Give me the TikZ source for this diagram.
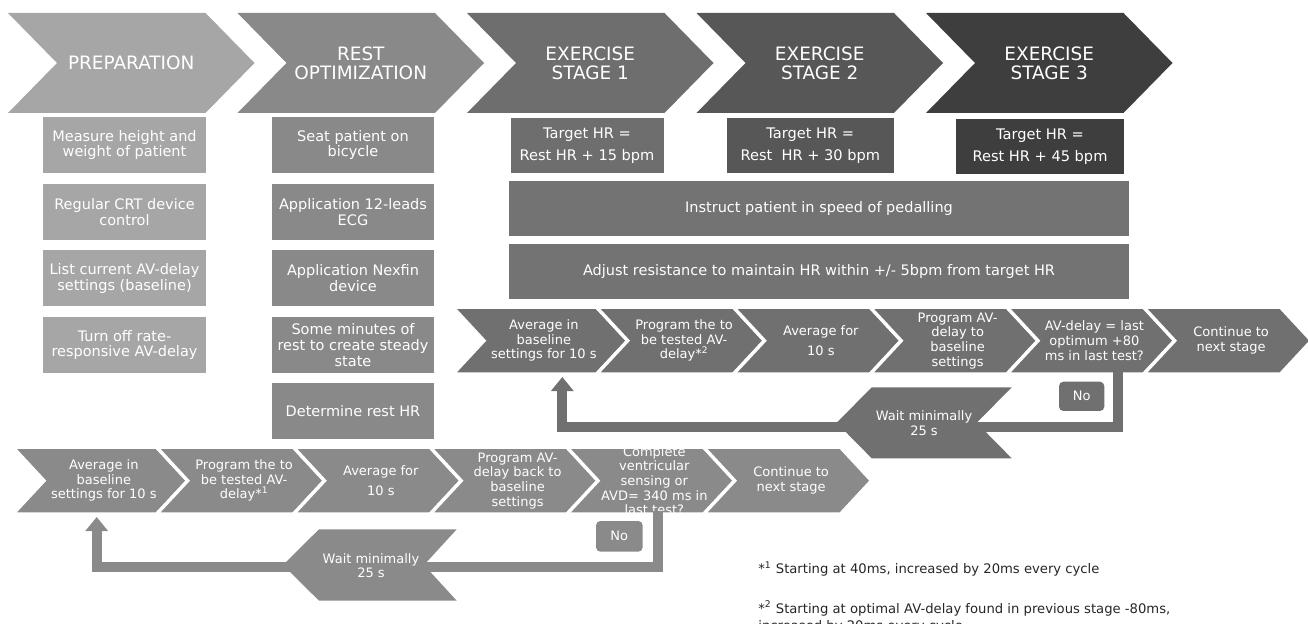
\documentclass[tikz,border=0pt]{standalone}
\usepackage{fontspec}
\setmainfont{DejaVu Sans}
\usepackage{tikz}
\usetikzlibrary{arrows.meta, positioning, calc}
\definecolor{prepgray}{HTML}{A6A6A6}
\definecolor{restgray}{HTML}{898989}
\definecolor{exagray}{HTML}{6E6E6E}
\definecolor{exbgray}{HTML}{575757}
\definecolor{excgray}{HTML}{3E3E3E}
\definecolor{widegray}{HTML}{737373}
\definecolor{upgray}{HTML}{707070}
\definecolor{logray}{HTML}{8A8A8A}
\definecolor{notegray}{HTML}{262626}
\tikzset{
  hdr/.style={text=white, font=\fontsize{10.5}{11}\selectfont, align=center, inner sep=0pt},
  boxtxt/.style={text=white, font=\fontsize{8.25}{9.1}\selectfont, align=center, inner sep=0pt},
  tgttxt/.style={text=white, font=\fontsize{8.3}{12.5}\selectfont, align=center, inner sep=0pt},
  rowtxt/.style={text=white, font=\fontsize{7.4}{8.35}\selectfont, align=center, inner sep=0pt},
  notetxt/.style={text=notegray, font=\fontsize{7.5}{9.8}\selectfont, align=left, inner sep=0pt, anchor=north west},
  chevline/.style={draw=white, line width=1.9pt},
  loopline/.style={line width=5.7pt, -{Triangle[length=8pt, width=12.5pt]}},
}

\begin{document}
\begin{tikzpicture}[x=0.02cm, y=-0.02cm]
  \useasboundingbox (0,0) rectangle (1308,624);
  \clip (0,0) rectangle (1308,624);
  \foreach \l/\col/\nm/\txt in {8/prepgray/prep/PREPARATION, 237.5/restgray/rest/{REST\\OPTIMIZATION}, 467/exagray/exa/{EXERCISE\\STAGE 1}, 696.5/exbgray/exb/{EXERCISE\\STAGE 2}, 926/excgray/exc/{EXERCISE\\STAGE 3}} {
    \fill[\col] (\l,13) -- ++(197.5,0) -- ++(49,50) -- ++(-49,50) -- ++(-197.5,0) -- ++(49,-50) -- cycle;
    \node[hdr] (\nm) at (\l+123.25,63) {\txt};
  }
  \foreach \y/\nm/\txt in {117/meas/{Measure height and\\weight of patient}, 184/crt/{Regular CRT device\\control}, 250.5/list/{List current AV-delay\\settings (baseline)}, 317/rate/{Turn off rate-\\responsive AV-delay}} {
    \fill[prepgray] (43,\y) rectangle ++(163,56);
    \node[boxtxt] (\nm) at (124.5,\y+28) {\txt};
  }
  \foreach \y/\nm/\txt in {117/seat/{Seat patient on\\bicycle}, 184/ecg/{Application 12-leads\\ECG}, 250.5/nexfin/{Application Nexfin\\device}, 317/steady/{Some minutes of\\rest to create steady\\state}, 383.5/resthr/{Determine rest HR}} {
    \fill[restgray] (272,\y) rectangle ++(162,56);
    \node[boxtxt] (\nm) at (353,\y+28) {\txt};
  }
  \fill[exagray] (510.5,118) rectangle (663.5,173);
  \node[tgttxt] (tga) at (587,146) {Target HR =\\Rest HR + 15 bpm};
  \fill[exbgray] (726.5,118) rectangle (894,173);
  \node[tgttxt] (tgb) at (810.3,146) {Target HR =\\Rest\ \ HR + 30 bpm};
  \fill[excgray] (956,119) rectangle (1124,174);
  \node[tgttxt] (tgc) at (1040,147) {Target HR =\\Rest HR + 45 bpm};
  \fill[widegray] (509,181) rectangle (1129,236);
  \node[boxtxt] (pedal) at (819,208.5) {Instruct patient in speed of pedalling};
  \fill[widegray] (509,244) rectangle (1129,299);
  \node[boxtxt] (resist) at (819,271.5) {Adjust resistance to maintain HR within +/- 5bpm from target HR};
  \foreach \l/\r/\nm/\txt in {453/596.7/ua/{Average in\\baseline\\settings for 10 s}, 596.7/733.5/ub/{Program the to\\be tested AV-\\delay*\textsuperscript{2}}, 733.5/870.2/uc/{Average for\\[3pt]10 s}, 870.2/1007/ud/{Program AV-\\delay to\\baseline\\settings}, 1007/1143.7/ue/{AV-delay = last\\optimum +80\\ms in last test?}, 1143.7/1280.5/uf/{Continue to\\next stage}} {
    \filldraw[fill=upgray, chevline] (\l,307.3) -- (\r,307.3) -- (\r+31,340.7) -- (\r,374) -- (\l,374) -- (\l+31,340.7) -- cycle;
    \node[rowtxt] (\nm) at ({(\l+\r)/2+19},340.7) {\txt};
  }
  \foreach \l/\r/\nm/\txt in {13/156.7/la/{Average in\\baseline\\settings for 10 s}, 156.7/293.5/lb/{Program the to\\be tested AV-\\delay*\textsuperscript{1}}, 293.5/430.2/lc/{Average for\\[3pt]10 s}, 430.2/567/ld/{Program AV-\\delay back to\\baseline\\settings}, 567/703.7/le/{Complete\\ventricular\\sensing or\\AVD= 340 ms in\\last test?}, 703.7/840.5/lf/{Continue to\\next stage}} {
    \filldraw[fill=logray, chevline] (\l,447.3) -- (\r,447.3) -- (\r+31,480.7) -- (\r,514) -- (\l,514) -- (\l+31,480.7) -- cycle;
    \node[rowtxt] (\nm) at ({(\l+\r)/2+19},480.7) {\txt};
  }
  \coordinate (udec) at (1118,371);
  \coordinate (uret) at (562.3,377);
  \draw[loopline, upgray] (udec) -- ++(0,56) -| (uret);
  \coordinate (ldec) at (658.3,511);
  \coordinate (lret) at (96.7,517);
  \draw[loopline, logray] (ldec) -- ++(0,55.7) -| (lret);
  \fill[upgray] (1011.7,387.3) -- (871.7,387.3) -- (836.7,422.8) -- (871.7,458.3) -- (1011.7,458.3) -- (976.7,422.8) -- cycle;
  \node[rowtxt] (uwait) at (924,423) {Wait minimally\\25 s};
  \fill[logray] (456.7,529.3) -- (319,529.3) -- (283,565) -- (319,600.7) -- (456.7,600.7) -- (424,565) -- cycle;
  \node[rowtxt] (lwait) at (371,565.5) {Wait minimally\\25 s};
  \fill[upgray, rounded corners=2.5pt] (1059,381.7) rectangle (1104.3,411);
  \node[rowtxt] (uno) at (1081.7,396.3) {No};
  \fill[logray, rounded corners=2.5pt] (596,521) rectangle (642.7,551.7);
  \node[rowtxt] (lno) at (619.3,536.3) {No};
  \node[notetxt] (fna) at (758,561) {*\textsuperscript{1} Starting at 40ms, increased by 20ms every cycle};
  \node[notetxt] (fnb) at (758,600.7) {*\textsuperscript{2} Starting at optimal AV-delay found in previous stage -80ms,\\increased by 20ms every cycle};
\end{tikzpicture}
\end{document}
